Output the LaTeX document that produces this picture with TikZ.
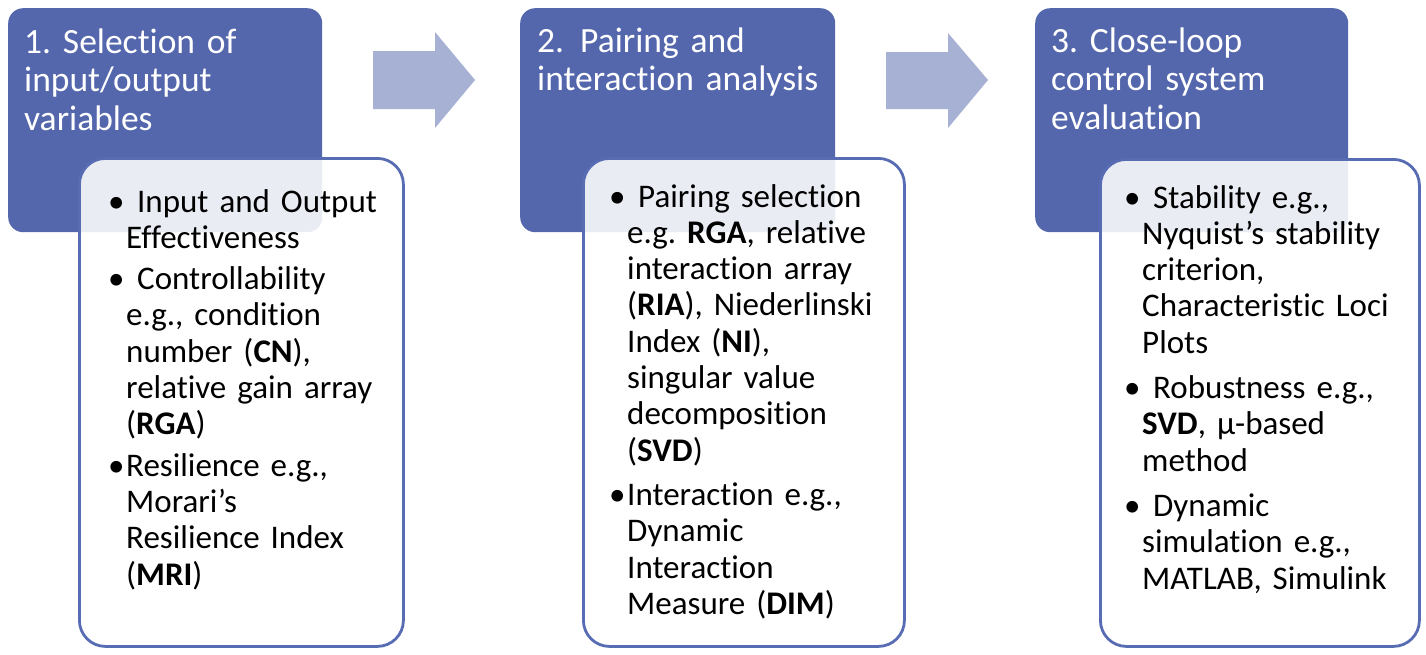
\documentclass[tikz,border=0pt]{standalone}
\usepackage{fontspec}
\setmainfont[Ligatures=NoCommon]{Carlito}
\usepackage{tikz}

\definecolor{headblue}{RGB}{84,103,172}
\definecolor{lineblue}{RGB}{88,108,180}
\definecolor{arrowblue}{RGB}{167,177,212}

\tikzset{
  headbox/.style={fill=headblue, rounded corners=15pt, anchor=north west, inner sep=0pt},
  listbox/.style={draw=lineblue, line width=2.8pt, fill=white, fill opacity=0.88,
    rounded corners=26pt, anchor=north west, inner sep=0pt},
  headtext/.style={text=white, anchor=base west, inner sep=0pt, text width=300pt, align=left,
    font=\fontsize{35.5}{38.5}\selectfont},
  listtext/.style={text=black, anchor=base west, inner sep=0pt, text width=290pt, align=left,
    font=\fontsize{33}{36.3}\selectfont},
  flowarrow/.style={fill=arrowblue}
}
\newcommand{\bul}{\leavevmode\llap{\makebox[18pt][l]{\textbullet}}}
\frenchspacing

\begin{document}
\begin{tikzpicture}[x=1pt,y=-1pt]
	\useasboundingbox (0,0) rectangle (1426,654);
	% step headers
	\node[headbox, minimum width=314, minimum height=224] (head1) at (8,8) {};
	\node[headbox, minimum width=315, minimum height=224] (head2) at (520,8) {};
	\node[headbox, minimum width=313, minimum height=224] (head3) at (1035,8) {};
	% arrows between steps
	\fill[flowarrow] (373,51) -- (435,51) -- (435,32) -- (475,80) -- (435,128) -- (435,109) -- (373,109) -- cycle;
	\fill[flowarrow] (886,52) -- (948,52) -- (948,33) -- (988,80) -- (948,128) -- (948,109) -- (886,109) -- cycle;
	% detail boxes
	\node[listbox, minimum width=324, minimum height=488] (list1) at (78,157) {};
	\node[listbox, minimum width=321, minimum height=488] (list2) at (582,157) {};
	\node[listbox, minimum width=319, minimum height=487] (list3) at (1099,158) {};
	% header texts
	\node[headtext] (title1) at (24,53) {1. Selection of\\input/output\\variables};
	\node[headtext] (title2) at (537,52) {2.\hspace{16pt}Pairing and\\interaction analysis};
	\node[headtext] (title3) at (1051,52) {3. Close-loop\\control system\\evaluation};
	% list texts
	\node[listtext] (items1) at (126,212) {\bul\ Input and Output\\Effectiveness\\[5pt]
		\bul\ Controllability\\e.g., condition\\number (\textbf{CN}),\\relative gain array\\(\textbf{RGA})\\[5pt]
		\bul Resilience e.g.,\\Morari’s\\Resilience Index\\(\textbf{MRI})};
	\node[listtext] (items2) at (627,207) {\bul\ Pairing selection\\e.g. \textbf{RGA}, relative\\interaction array\\(\textbf{RIA}), Niederlinski\\Index (\textbf{NI}),\\singular value\\decomposition\\(\textbf{SVD})\\[8pt]
		\bul Interaction e.g.,\\Dynamic\\Interaction\\Measure (\textbf{DIM})};
	\node[listtext] (items3) at (1142,208) {\bul\ Stability e.g.,\\Nyquist’s stability\\criterion,\\Characteristic Loci\\Plots\\[9pt]
		\bul\ Robustness e.g.,\\\textbf{SVD}, µ-based\\method\\[9pt]
		\bul\ Dynamic\\simulation e.g.,\\MATLAB, Simulink};
\end{tikzpicture}
\end{document}
